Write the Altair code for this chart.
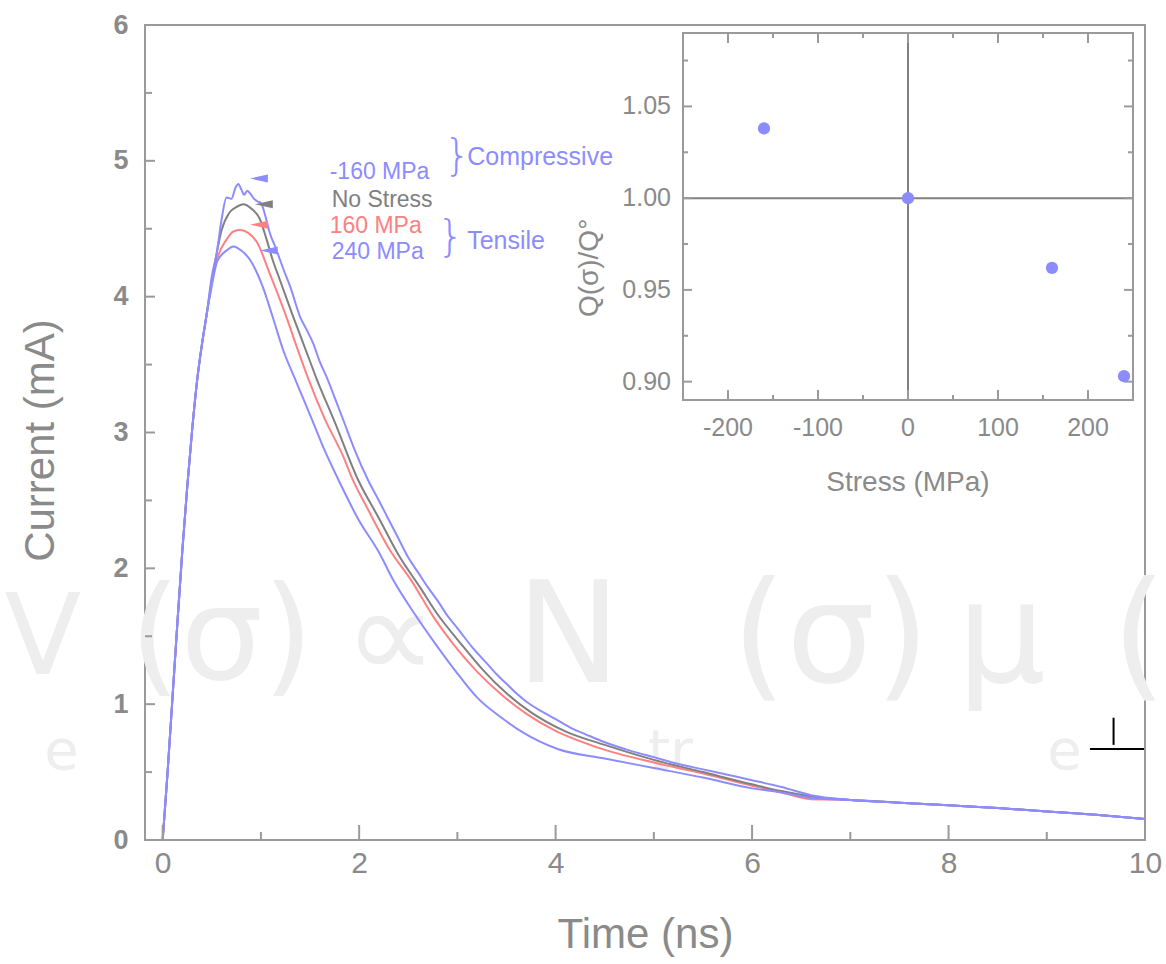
import altair as alt
import pandas as pd

# ---------------- data ----------------
X_DOMAIN = [-0.18, 10.0]
Y_DOMAIN = [0, 6]

RISE_T = [0.0, 0.05, 0.1, 0.15, 0.2, 0.25, 0.3, 0.35, 0.4, 0.45]
RISE_I = [0.0, 0.50, 1.05, 1.60, 2.13, 2.60, 3.02, 3.38, 3.65, 3.88]

TAIL_T = [7.0, 7.5, 8.0, 8.5, 9.0, 9.5, 10.0]
TAIL_I = [0.295, 0.275, 0.255, 0.235, 0.21, 0.185, 0.155]

COMP_T = [0.5, 0.55, 0.6, 0.65, 0.7, 0.74, 0.77, 0.8, 0.83, 0.86, 0.89, 0.93, 0.97, 1.0,
          1.05, 1.09, 1.15, 1.23, 1.3, 1.4, 1.47, 1.53, 1.6, 1.68, 1.76, 1.85, 1.95, 2.09,
          2.2, 2.3, 2.4, 2.5, 2.6, 2.7, 2.8, 2.9, 3.0, 3.15, 3.3, 3.4, 3.5, 3.6, 3.7, 3.85,
          4.0, 4.17, 4.3, 4.5, 4.75, 5.0, 5.25, 5.5, 5.75, 6.0, 6.3, 6.6]
COMP_I = [4.15, 4.32, 4.57, 4.73, 4.72, 4.80, 4.83, 4.79, 4.75, 4.78, 4.76, 4.72, 4.70, 4.69,
          4.58, 4.47, 4.36, 4.20, 4.07, 3.85, 3.75, 3.66, 3.52, 3.39, 3.24, 3.07, 2.88, 2.65,
          2.50, 2.36, 2.22, 2.08, 1.97, 1.86, 1.76, 1.65, 1.56, 1.42, 1.30, 1.22, 1.15, 1.08,
          1.02, 0.95, 0.89, 0.82, 0.78, 0.72, 0.66, 0.61, 0.56, 0.52, 0.48, 0.44, 0.39, 0.33]

NOST_T = [0.5, 0.55, 0.6, 0.68, 0.75, 0.82, 0.9, 0.99, 1.05, 1.12, 1.2, 1.33, 1.45, 1.57,
          1.75, 1.99, 2.2, 2.4, 2.62, 2.8, 3.03, 3.25, 3.5, 3.75, 4.1, 4.5, 5.0, 5.5, 6.0,
          6.3, 6.6]
NOST_I = [4.12, 4.32, 4.49, 4.62, 4.66, 4.68, 4.65, 4.57, 4.44, 4.27, 4.11, 3.85, 3.62, 3.39,
          3.08, 2.65, 2.37, 2.10, 1.86, 1.66, 1.45, 1.26, 1.08, 0.94, 0.80, 0.70, 0.59, 0.50,
          0.41, 0.36, 0.32]

T160_T = [0.5, 0.56, 0.65, 0.72, 0.79, 0.87, 0.96, 1.09, 1.26, 1.37, 1.48, 1.65, 1.84, 1.93,
          2.1, 2.3, 2.54, 2.75, 2.96, 3.2, 3.45, 3.7, 3.98, 4.43, 5.0, 5.5, 6.0, 6.3, 6.6]
T160_I = [4.10, 4.29, 4.42, 4.48, 4.49, 4.47, 4.40, 4.17, 3.85, 3.62, 3.40, 3.10, 2.82, 2.66,
          2.42, 2.15, 1.90, 1.65, 1.44, 1.24, 1.07, 0.93, 0.81, 0.68, 0.57, 0.49, 0.40, 0.35,
          0.30]

T240_T = [0.5, 0.55, 0.58, 0.65, 0.72, 0.8, 0.89, 1.02, 1.12, 1.23, 1.35, 1.5, 1.63, 1.79,
          2.0, 2.2, 2.35, 2.55, 2.8, 3.05, 3.2, 3.45, 3.67, 4.02, 4.5, 5.0, 5.5, 6.0, 6.3, 6.6]
T240_I = [4.08, 4.25, 4.29, 4.34, 4.37, 4.34, 4.27, 4.07, 3.85, 3.60, 3.39, 3.13, 2.90, 2.65,
          2.35, 2.12, 1.91, 1.68, 1.42, 1.18, 1.05, 0.90, 0.79, 0.67, 0.60, 0.53, 0.46, 0.38,
          0.35, 0.31]

SERIES = ["160 MPa", "No Stress", "240 MPa", "-160 MPa"]   # drawing order
SERIES_T = {"-160 MPa": COMP_T, "No Stress": NOST_T, "160 MPa": T160_T, "240 MPa": T240_T}
SERIES_I = {"-160 MPa": COMP_I, "No Stress": NOST_I, "160 MPa": T160_I, "240 MPa": T240_I}

BLUE = "#8c8cff"
RED = "#ff8080"
GREY = "#808080"
TXT = "#8a8a8a"
FRAME = "#9a9a9a"
COLORS = {"-160 MPa": BLUE, "No Stress": GREY, "160 MPa": RED, "240 MPa": BLUE}

LEG_TEXT = ["-160 MPa", "No Stress", "160 MPa", "240 MPa"]
LEG_T = [1.70, 1.72, 1.70, 1.72]
LEG_I = [4.915, 4.71, 4.52, 4.33]
MARK_T = [0.98, 1.03, 0.98, 1.08]
MARK_I = [4.87, 4.68, 4.53, 4.34]

BRACE_T = [3.0, 2.93]
BRACE_I = [5.03, 4.43]
GROUP_TEXT = ["Compressive", "Tensile"]
GROUP_T = [3.10, 3.10]
GROUP_I = [5.03, 4.41]

X_MAJOR = [0, 2, 4, 6, 8, 10]
X_MINOR = [1, 3, 5, 7, 9]
Y_MAJOR = [0, 1, 2, 3, 4, 5, 6]
Y_MINOR = [0.5, 1.5, 2.5, 3.5, 4.5, 5.5]

# blurred formula in the background
BG_TEXT = ["V", "e", "(σ)", "∝", "N", "tr", "(σ)", "μ", "e", "("]
BG_T = [-1.22, -1.03, 0.60, 2.32, 4.13, 5.17, 6.80, 8.54, 9.18, 9.94]
BG_I = [1.47, 0.65, 1.47, 1.47, 1.47, 0.65, 1.47, 1.47, 0.65, 1.47]
BG_SIZE = [112, 56, 130, 130, 140, 56, 140, 140, 56, 140]

PERP_T = [9.68, 9.44, 9.99]
PERP_I = [0.70, 0.90, 0.67]

# inset
STRESS = [-160, 0, 160, 240]
QRATIO = [1.038, 1.000, 0.962, 0.903]
S_DOMAIN = [-250, 250]
Q_DOMAIN = [0.89, 1.09]
S_MAJOR = [-200, -100, 0, 100, 200]
S_MINOR = [-150, -50, 50, 150]
Q_MAJOR = [0.90, 0.95, 1.00, 1.05]
Q_MINOR = [0.925, 0.975, 1.025, 1.075]
Q_LABELS = ["0.90", "0.95", "1.00", "1.05"]

# ---------------- chart ----------------
W, H = 1000, 815
FONT = "Liberation Sans"

XAXIS = alt.Axis(values=X_MAJOR, title="Time (ns)", labelFontSize=30, labelFont=FONT,
                 labelColor=TXT, labelPadding=8, labelFlush=False, titleFont=FONT,
                 titleFontSize=42, titleFontWeight="normal", titleColor=TXT,
                 titlePadding=36, domain=False, ticks=False, grid=False)
YAXIS = alt.Axis(values=Y_MAJOR, title="Current (mA)", labelFontSize=27, labelFont=FONT,
                 labelFontWeight="bold", labelColor=TXT, labelPadding=17, labelFlush=False,
                 titleFont=FONT, titleFontSize=42, titleFontWeight="normal", titleColor=TXT,
                 titlePadding=50, titleY=415, domain=False, ticks=False, grid=False)

xs = alt.Scale(domain=X_DOMAIN, nice=False, zero=False)
ys = alt.Scale(domain=Y_DOMAIN, nice=False, zero=False)
X = alt.X("t:Q", scale=xs, axis=XAXIS)
Y = alt.Y("I:Q", scale=ys, axis=YAXIS)

bg_df = pd.DataFrame({"txt": BG_TEXT, "t": BG_T, "I": BG_I, "sz": BG_SIZE})
bg = alt.Chart(bg_df).mark_text(font="DejaVu Sans", color="#eeeeee", baseline="middle",
                                align="center").encode(
    x=X, y=Y, text="txt:N", size=alt.Size("sz:Q", scale=None))

line_layers = []
for name in SERIES:
    df = pd.DataFrame({"t": RISE_T + SERIES_T[name] + TAIL_T,
                       "I": RISE_I + SERIES_I[name] + TAIL_I})
    line_layers.append(
        alt.Chart(df).mark_line(color=COLORS[name], strokeWidth=2,
                                interpolate="monotone").encode(x=X, y=Y))

xt_major = pd.DataFrame({"t": X_MAJOR, "I": 0, "I2": 0})
xt_minor = pd.DataFrame({"t": X_MINOR, "I": 0, "I2": 0})
yt_major = pd.DataFrame({"t": X_DOMAIN[0], "t2": X_DOMAIN[0], "I": Y_MAJOR})
yt_minor = pd.DataFrame({"t": X_DOMAIN[0], "t2": X_DOMAIN[0], "I": Y_MINOR})
tick_style = dict(color=FRAME, strokeWidth=2)
ticks = [
    alt.Chart(xt_major).mark_rule(y2Offset=-15, **tick_style).encode(x=X, y=Y, y2="I2:Q"),
    alt.Chart(xt_minor).mark_rule(y2Offset=-8, **tick_style).encode(x=X, y=Y, y2="I2:Q"),
    alt.Chart(yt_major).mark_rule(x2Offset=10, **tick_style).encode(x=X, x2="t2:Q", y=Y),
    alt.Chart(yt_minor).mark_rule(x2Offset=7, **tick_style).encode(x=X, x2="t2:Q", y=Y),
]

leg_df = pd.DataFrame({"txt": LEG_TEXT, "t": LEG_T, "I": LEG_I,
                       "c": [COLORS[n] for n in LEG_TEXT]})
leg = alt.Chart(leg_df).mark_text(font=FONT, fontSize=23, align="left",
                                  baseline="middle").encode(
    x=X, y=Y, text="txt:N", color=alt.Color("c:N", scale=None))

mk_df = pd.DataFrame({"t": MARK_T, "I": MARK_I, "c": [COLORS[n] for n in LEG_TEXT]})
mk = alt.Chart(mk_df).mark_point(shape="M 1 -0.45 L -1 0 L 1 0.45 Z", filled=True,
                                 size=320, opacity=1).encode(
    x=X, y=Y, color=alt.Color("c:N", scale=None))

br_df = pd.DataFrame({"txt": ["}", "}"], "t": BRACE_T, "I": BRACE_I})
br = alt.Chart(br_df).mark_text(font="DejaVu Sans", fontSize=42, fontWeight=200,
                                color=BLUE, align="center",
                                baseline="middle").encode(x=X, y=Y, text="txt:N")
gr_df = pd.DataFrame({"txt": GROUP_TEXT, "t": GROUP_T, "I": GROUP_I})
gr = alt.Chart(gr_df).mark_text(font=FONT, fontSize=25, color=BLUE, align="left",
                                baseline="middle").encode(x=X, y=Y, text="txt:N")

perp_v = pd.DataFrame({"t": [PERP_T[0]], "I": [PERP_I[0]], "I2": [PERP_I[1]]})
perp_h = pd.DataFrame({"t": [PERP_T[1]], "t2": [PERP_T[2]], "I": [PERP_I[2]]})
perp = [
    alt.Chart(perp_v).mark_rule(color="black", strokeWidth=2).encode(x=X, y=Y, y2="I2:Q"),
    alt.Chart(perp_h).mark_rule(color="black", strokeWidth=2).encode(x=X, x2="t2:Q", y=Y),
]

main = alt.layer(bg, *line_layers, *ticks, mk, leg, br, gr, *perp)

# ---------------- inset ----------------
SX = alt.X("s:Q", scale=alt.Scale(domain=S_DOMAIN, range=[538, 988], nice=False, zero=False),
           axis=None)
SY = alt.Y("q:Q", scale=alt.Scale(domain=Q_DOMAIN, range=[375, 8], nice=False, zero=False),
           axis=None)

frame_df = pd.DataFrame({"s": [S_DOMAIN[0]], "s2": [S_DOMAIN[1]],
                         "q": [Q_DOMAIN[0]], "q2": [Q_DOMAIN[1]]})
frame = alt.Chart(frame_df).mark_rect(fill="white", stroke=FRAME, strokeWidth=2).encode(
    x=SX, x2="s2:Q", y=SY, y2="q2:Q")

zero_v = pd.DataFrame({"s": [0], "q": [Q_DOMAIN[0]], "q2": [Q_DOMAIN[1]]})
zero_h = pd.DataFrame({"s": [S_DOMAIN[0]], "s2": [S_DOMAIN[1]], "q": [1.0]})
zeros = [
    alt.Chart(zero_v).mark_rule(color=GREY, strokeWidth=2).encode(x=SX, y=SY, y2="q2:Q"),
    alt.Chart(zero_h).mark_rule(color=GREY, strokeWidth=2).encode(x=SX, x2="s2:Q", y=SY),
]

itick = []
for vals, ln in ((S_MAJOR, 10), (S_MINOR, 5)):
    bdf = pd.DataFrame({"s": vals, "q": Q_DOMAIN[0], "q2": Q_DOMAIN[0]})
    tdf = pd.DataFrame({"s": vals, "q": Q_DOMAIN[1], "q2": Q_DOMAIN[1]})
    itick.append(alt.Chart(bdf).mark_rule(y2Offset=-ln, **tick_style).encode(x=SX, y=SY, y2="q2:Q"))
    itick.append(alt.Chart(tdf).mark_rule(y2Offset=ln, **tick_style).encode(x=SX, y=SY, y2="q2:Q"))
for vals, ln in ((Q_MAJOR, 9), (Q_MINOR, 5)):
    ldf = pd.DataFrame({"s": S_DOMAIN[0], "s2": S_DOMAIN[0], "q": vals})
    rdf = pd.DataFrame({"s": S_DOMAIN[1], "s2": S_DOMAIN[1], "q": vals})
    itick.append(alt.Chart(ldf).mark_rule(x2Offset=ln, **tick_style).encode(x=SX, x2="s2:Q", y=SY))
    itick.append(alt.Chart(rdf).mark_rule(x2Offset=-ln, **tick_style).encode(x=SX, x2="s2:Q", y=SY))

pts = alt.Chart(pd.DataFrame({"s": STRESS, "q": QRATIO})).mark_circle(
    color=BLUE, size=150, opacity=1).encode(x=SX, y=SY)

xl_df = pd.DataFrame({"s": S_MAJOR, "q": Q_DOMAIN[0], "txt": [str(v) for v in S_MAJOR]})
xl = alt.Chart(xl_df).mark_text(font=FONT, fontSize=25, color=TXT, baseline="middle",
                                align="center", dy=28).encode(x=SX, y=SY, text="txt:N")
yl_df = pd.DataFrame({"s": S_DOMAIN[0], "q": Q_MAJOR, "txt": Q_LABELS})
yl = alt.Chart(yl_df).mark_text(font=FONT, fontSize=25, color=TXT, baseline="middle",
                                align="right", dx=-12).encode(x=SX, y=SY, text="txt:N")
it_df = pd.DataFrame({"s": [0], "q": [Q_DOMAIN[0]], "txt": ["Stress (MPa)"]})
it = alt.Chart(it_df).mark_text(font=FONT, fontSize=28, color=TXT, baseline="middle",
                                align="center", dy=83).encode(x=SX, y=SY, text="txt:N")
iy_df = pd.DataFrame({"s": [S_DOMAIN[0]], "q": [0.962], "txt": ["Q(σ)/Q°"]})
iy = alt.Chart(iy_df).mark_text(font=FONT, fontSize=28, color=TXT, baseline="middle",
                                align="center", angle=270, xOffset=-93).encode(
    x=SX, y=SY, text="txt:N")

inset = alt.layer(frame, *zeros, *itick, pts, xl, yl, it, iy)

chart = alt.layer(main, inset).resolve_scale(x="independent", y="independent").properties(
    width=W, height=H, autosize="none",
    padding={"left": 145, "top": 25, "right": 21, "bottom": 124},
    background="white",
).configure_view(stroke=FRAME, strokeWidth=2)

chart.save("out.html", embed_options={"renderer": "svg", "actions": False})
